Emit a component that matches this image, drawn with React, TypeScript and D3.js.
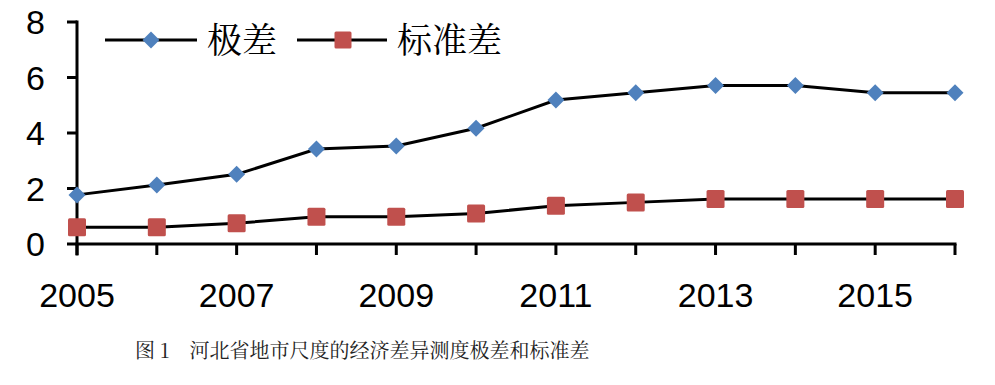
import React, { useEffect, useRef } from 'react';
import * as d3 from 'd3';

const years = [2005, 2006, 2007, 2008, 2009, 2010, 2011, 2012, 2013, 2014, 2015, 2016];
const rangeValues = [1.77, 2.13, 2.51, 3.42, 3.53, 4.17, 5.19, 5.45, 5.71, 5.71, 5.45, 5.45];
const stdValues = [0.6, 0.6, 0.75, 0.98, 0.98, 1.1, 1.38, 1.5, 1.62, 1.62, 1.62, 1.62];
const yTicks = [0, 2, 4, 6, 8];
const xLabels = [2005, 2007, 2009, 2011, 2013, 2015];
const seriesNames = ['极差', '标准差'];
const caption = '图 1\u3000河北省地市尺度的经济差异测度极差和标准差';

export default function App() {
  const ref = useRef<SVGSVGElement>(null);

  useEffect(() => {
    const svg = d3.select(ref.current);
    svg.selectAll('*').remove();

    const left = 77;
    const right = 955;
    const top = 22;
    const bottom = 244;
    const numFont = '"Liberation Sans", Arial, sans-serif';
    const cjkFont = '"Noto Serif CJK SC", "Noto Sans CJK SC", sans-serif';

    const x = d3.scalePoint<number>().domain(years).range([left, right]);
    const y = d3.scaleLinear().domain([0, 8]).range([bottom, top]);

    // axes drawn as solid bars (3px)
    const axes = svg.append('g').attr('fill', '#000');
    axes.append('rect')
      .attr('x', left - 1.5).attr('y', y(8) - 1.5)
      .attr('width', 3).attr('height', y(0) - y(8) + 13);
    axes.append('rect')
      .attr('x', left - 1.5).attr('y', bottom - 1.5)
      .attr('width', right - left + 3).attr('height', 3);
    yTicks.forEach((t) => {
      axes.append('rect')
        .attr('x', left - 10).attr('y', y(t) - 1.5)
        .attr('width', 10).attr('height', 3);
      axes.append('text')
        .attr('x', 45).attr('y', y(t))
        .attr('dy', '0.36em')
        .attr('text-anchor', 'end')
        .attr('font-family', numFont)
        .attr('font-size', 34)
        .text(t);
    });
    years.forEach((yr) => {
      axes.append('rect')
        .attr('x', x(yr)! - 1.5).attr('y', bottom)
        .attr('width', 3).attr('height', 11);
    });
    xLabels.forEach((yr) => {
      axes.append('text')
        .attr('x', x(yr)!).attr('y', 307)
        .attr('text-anchor', 'middle')
        .attr('font-family', numFont)
        .attr('font-size', 34)
        .text(yr);
    });

    const line = d3.line<number>()
      .x((_, i) => x(years[i])!)
      .y((d) => y(d));

    const diamond = (g: any, cx: number, cy: number) =>
      g.append('path')
        .attr('d', `M${cx},${cy - 8.5}L${cx + 8.5},${cy}L${cx},${cy + 8.5}L${cx - 8.5},${cy}Z`)
        .attr('fill', '#4F81BD');
    const square = (g: any, cx: number, cy: number, s: number) =>
      g.append('rect')
        .attr('x', cx - s / 2).attr('y', cy - s / 2)
        .attr('width', s).attr('height', s)
        .attr('rx', 1.5)
        .attr('fill', '#C0504D');

    const plot = svg.append('g');
    plot.append('path').attr('d', line(stdValues)!)
      .attr('fill', 'none').attr('stroke', '#000').attr('stroke-width', 3);
    plot.append('path').attr('d', line(rangeValues)!)
      .attr('fill', 'none').attr('stroke', '#000').attr('stroke-width', 3);
    rangeValues.forEach((v, i) => diamond(plot, x(years[i])!, y(v)));
    stdValues.forEach((v, i) => square(plot, x(years[i])!, y(v), 18));

    // legend
    const lg = svg.append('g');
    const ly = 40;
    lg.append('line').attr('x1', 105).attr('x2', 197).attr('y1', ly).attr('y2', ly)
      .attr('stroke', '#000').attr('stroke-width', 3);
    diamond(lg, 151, ly);
    lg.append('text').attr('x', 207).attr('y', ly).attr('dy', '0.36em')
      .attr('font-family', cjkFont).attr('font-size', 35).text(seriesNames[0]);
    lg.append('line').attr('x1', 297).attr('x2', 387).attr('y1', ly).attr('y2', ly)
      .attr('stroke', '#000').attr('stroke-width', 3);
    square(lg, 343, ly, 17);
    lg.append('text').attr('x', 397).attr('y', ly).attr('dy', '0.36em')
      .attr('font-family', cjkFont).attr('font-size', 35).text(seriesNames[1]);

    // caption
    svg.append('text')
      .attr('x', 135).attr('y', 358)
      .attr('font-family', cjkFont)
      .attr('font-size', 20)
      .attr('fill', '#222')
      .text(caption);
  }, []);

  return (
    <svg
      ref={ref}
      width={995}
      height={385}
      style={{ position: 'absolute', left: 0, top: 0, background: '#fff' }}
    />
  );
}
